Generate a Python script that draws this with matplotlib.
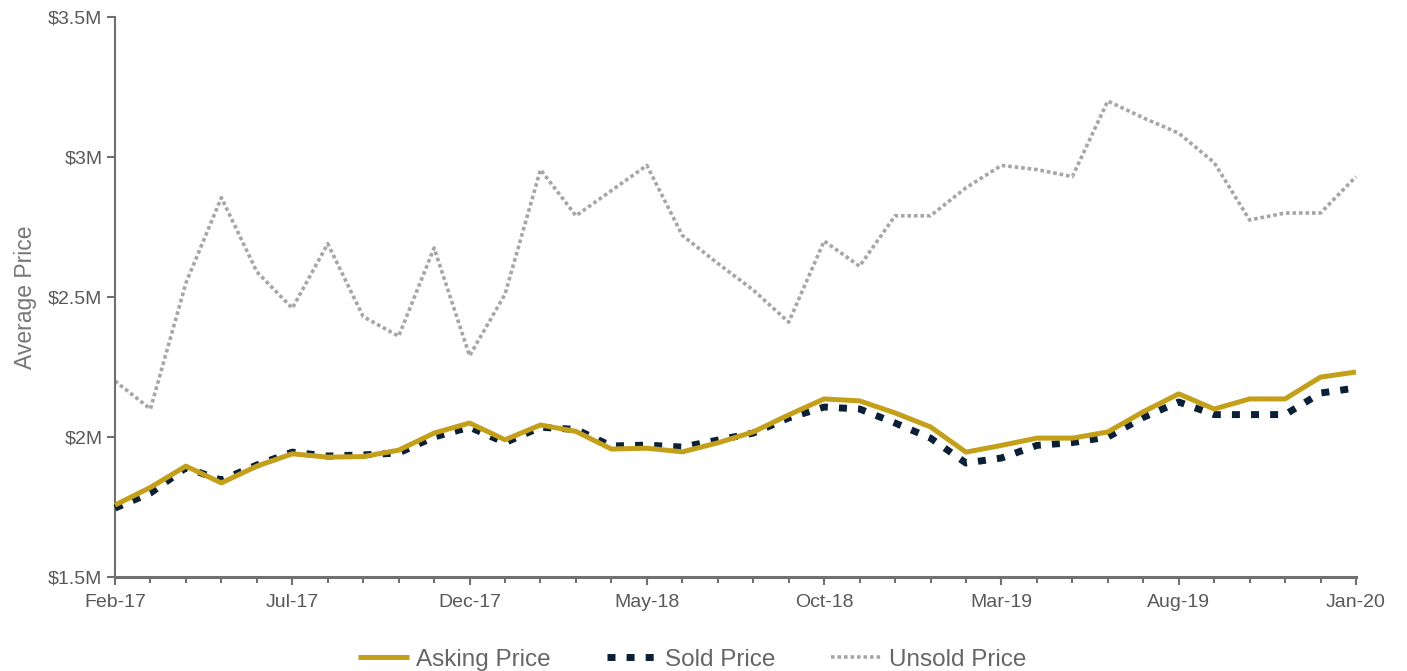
import numpy as np
import pandas as pd
import matplotlib.pyplot as plt
from matplotlib.ticker import FuncFormatter, MultipleLocator

# monthly average prices, $M
months = pd.date_range('2017-02-01', '2020-01-01', freq='MS').strftime('%b-%y').tolist()

asking = [1.757, 1.82, 1.896, 1.836, 1.896, 1.94, 1.928, 1.93, 1.953, 2.014,
          2.05, 1.99, 2.043, 2.02, 1.957, 1.96, 1.947, 1.979, 2.018, 2.079,
          2.136, 2.129, 2.086, 2.036, 1.946, 1.97, 1.996, 1.996, 2.018, 2.09,
          2.154, 2.10, 2.136, 2.136, 2.214, 2.232]

sold = [1.746, 1.80, 1.89, 1.846, 1.90, 1.946, 1.932, 1.936, 1.943, 2.00,
        2.035, 1.98, 2.035, 2.027, 1.968, 1.971, 1.964, 1.989, 2.014, 2.068,
        2.107, 2.10, 2.05, 1.996, 1.907, 1.925, 1.97, 1.98, 2.00, 2.07,
        2.125, 2.08, 2.08, 2.08, 2.157, 2.175]

unsold = [2.20, 2.10, 2.55, 2.855, 2.59, 2.46, 2.69, 2.43, 2.36, 2.675,
          2.29, 2.51, 2.955, 2.79, 2.88, 2.97, 2.72, 2.62, 2.525, 2.41,
          2.70, 2.61, 2.79, 2.79, 2.89, 2.97, 2.955, 2.93, 3.20, 3.14,
          3.085, 2.98, 2.775, 2.80, 2.80, 2.93]

x = np.arange(len(months))

gold = '#C4A01A'
navy = '#0B2036'
grey = '#A6A6A6'
txt = '#595959'

plt.rcParams['font.family'] = ['Liberation Sans', 'DejaVu Sans']

fig = plt.figure(figsize=(14.07, 6.71), dpi=100)
ax = fig.add_axes([115/1407, 94/671, 1241/1407, 560/671])

ax.plot(x, unsold, color=grey, lw=2.6, dashes=(1.0, 0.8), clip_on=False, label='Unsold Price', zorder=2)
ax.plot(x, sold, color=navy, lw=5.0, dashes=(1.15, 1.6), clip_on=False, label='Sold Price', zorder=3)
ax.plot(x, asking, color=gold, lw=3.6, clip_on=False, label='Asking Price', zorder=4, solid_capstyle='butt')

ax.set_xlim(0, len(months) - 1)
ax.set_ylim(1.5, 3.5)
ax.set_xticks(x[::5])
ax.set_xticklabels(months[::5])
ax.xaxis.set_minor_locator(MultipleLocator(1))
ax.yaxis.set_major_locator(MultipleLocator(0.5))
ax.yaxis.set_major_formatter(FuncFormatter(lambda v, p: f'${v:g}M'))

for s in ['top', 'right']:
    ax.spines[s].set_visible(False)
for s in ['left', 'bottom']:
    ax.spines[s].set_color('#707070')
ax.spines['left'].set_linewidth(1.5)
ax.spines['bottom'].set_linewidth(2.2)

ax.tick_params(axis='x', which='major', length=6, width=1.5, color='#707070', labelsize=14, labelcolor=txt, pad=6)
ax.tick_params(axis='x', which='minor', length=4, width=1.5, color='#707070')
ax.tick_params(axis='y', length=6, width=1.5, color='#707070', labelsize=14, labelcolor=txt, pad=3)

ax.set_ylabel('Average Price', fontsize=16.5, color='#777777', labelpad=8)

h, l = ax.get_legend_handles_labels()
order = [2, 1, 0]
fig.legend([h[i] for i in order], [l[i] for i in order], loc='center',
           bbox_to_anchor=(0.492, 0.017), ncol=3, frameon=False,
           fontsize=17.5, labelcolor='#666666', handlelength=2.1,
           handletextpad=0.3, columnspacing=2.3)

fig.savefig('out.png', dpi=100)
